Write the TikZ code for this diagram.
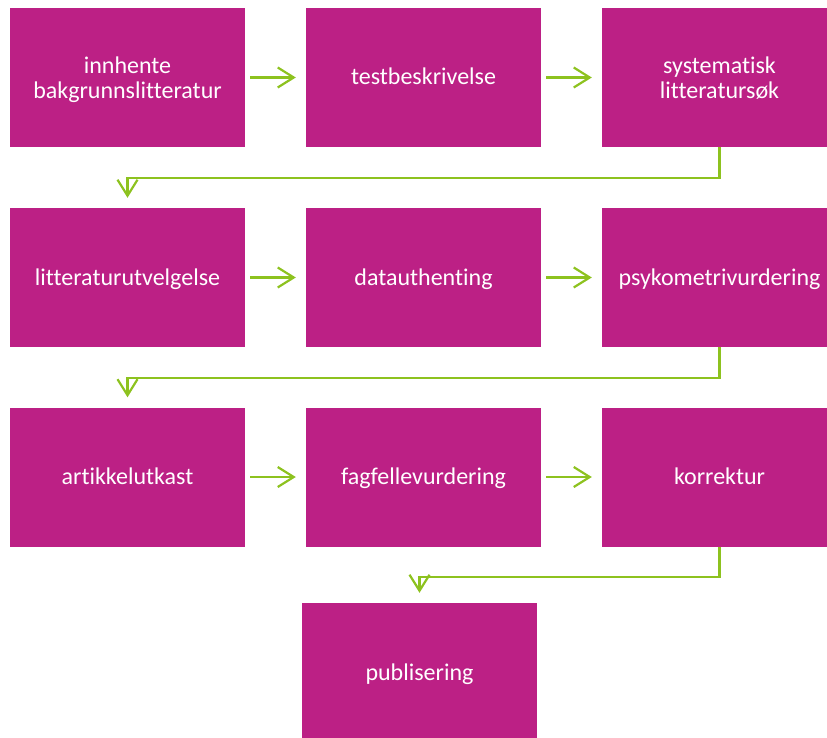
\documentclass[tikz,border=0pt]{standalone}
\usepackage{fontspec}
\setmainfont{Carlito}[Ligatures=NoCommon]
\usetikzlibrary{arrows.meta}

\definecolor{boxmagenta}{HTML}{BC2085}
\definecolor{arrowgreen}{HTML}{8DC21F}

\tikzset{
  stepbox/.style={fill=boxmagenta,text=white,minimum width=235pt,minimum height=139pt,
    inner sep=0pt,align=center,font=\fontsize{24}{25}\selectfont},
  oneline/.style={stepbox,text height=17pt,text depth=2pt},
  twoline/.style={stepbox,text depth=0pt},
  flow/.style={draw=arrowgreen,line width=2.2pt,
    -{Straight Barb[length=16pt,width=20pt,line width=2.2pt]}}
}

\begin{document}
\begin{tikzpicture}[x=1pt,y=-1pt]
    \useasboundingbox (0,0) rectangle (827,738);

    \node[twoline] at (127.5,77.5) (Bak) {innhente\\bakgrunnslitteratur};
    \node[oneline] at (423.5,77.5) (Tst) {testbeskrivelse};
    \node[twoline] at (719.5,77.5) (Sys) {systematisk\\litteratursøk};
    \node[oneline] at (127.5,277.5) (Utv) {litteraturutvelgelse};
    \node[oneline] at (423.5,277.5) (Dat) {datauthenting};
    \node[oneline] at (719.5,277.5) (Psy) {psykometrivurdering};
    \node[oneline] at (127.5,477) (Art) {artikkelutkast};
    \node[oneline] at (423.5,477) (Fag) {fagfellevurdering};
    \node[oneline] at (719.5,477) (Kor) {korrektur};
    \node[oneline] at (419.5,672.5) (Pub) {publisering};

    \draw[flow,shorten <=5pt,shorten >=10pt] (Bak) to (Tst);
    \draw[flow,shorten <=5pt,shorten >=10pt] (Tst) to (Sys);
    \draw[flow,shorten <=5pt,shorten >=10pt] (Utv) to (Dat);
    \draw[flow,shorten <=5pt,shorten >=10pt] (Dat) to (Psy);
    \draw[flow,shorten <=5pt,shorten >=10pt] (Art) to (Fag);
    \draw[flow,shorten <=5pt,shorten >=10pt] (Fag) to (Kor);

    \draw[flow,shorten >=10pt] (Sys.south) -- ++(0,31) -| (Utv.north);
    \draw[flow,shorten >=10pt] (Psy.south) -- ++(0,31) -| (Art.north);
    \draw[flow,shorten >=10pt] (Kor.south) -- ++(0,30) -| (Pub.north);
  \end{tikzpicture}
\end{document}
